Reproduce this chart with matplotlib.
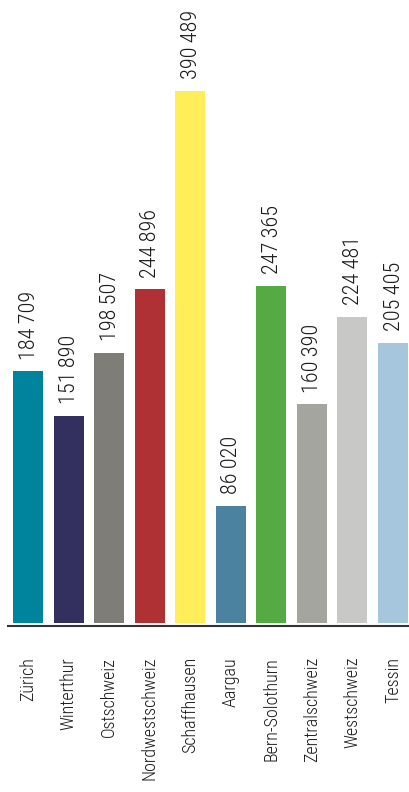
import matplotlib
matplotlib.use("Agg")
import matplotlib.pyplot as plt
from matplotlib import font_manager

regions = ["Zürich", "Winterthur", "Ostschweiz", "Nordwestschweiz", "Schaffhausen",
           "Aargau", "Bern-Solothurn", "Zentralschweiz", "Westschweiz", "Tessin"]
values = [184709, 151890, 198507, 244896, 390489, 86020, 247365, 160390, 224481, 205405]
colors = ["#00849E", "#33305F", "#7F7D77", "#B03133", "#FFEE5A",
          "#4A829F", "#55AA44", "#A5A59F", "#C8C8C6", "#A6C6DE"]

names = {f.name for f in font_manager.fontManager.ttflist}
family = next((n for n in ["Roboto Condensed", "Archivo Narrow", "Liberation Sans Narrow"]
               if n in names), "Liberation Sans")
plt.rcParams["font.family"] = [family, "DejaVu Sans"]

W, H = 410, 792
fig = plt.figure(figsize=(W / 100, H / 100), dpi=100)
base_px, top_px = 623, 91
ax = fig.add_axes([0, (H - base_px) / H, 1, (base_px - top_px) / H])
ax.set_xlim(-0.69, 9.42)
ax.set_ylim(0, max(values))
ax.axis("off")

x = list(range(len(regions)))
ax.bar(x, values, width=0.74, color=colors, clip_on=False)

def fmt(v):
    return f"{v:,}".replace(",", "\u2009")

for xi, v in zip(x, values):
    ax.annotate(fmt(v), (xi, v), xytext=(0.8, 8.5), textcoords="offset points",
                rotation=90, ha="center", va="bottom", fontsize=16, fontweight="light",
                color="#1a1a1a", annotation_clip=False)

# baseline rule under the bars
fig.add_artist(plt.Line2D([8 / W, 1], [(H - 626) / H] * 2, color="#333333", lw=1.5))

for xi, name in zip(x, regions):
    ax.annotate(name, (xi, 0), xytext=(0, -(657 - base_px) * 0.72), textcoords="offset points",
                rotation=90, ha="center", va="top", fontsize=13, fontweight="light",
                color="#1a1a1a", annotation_clip=False)

fig.savefig("out.png", dpi=100)
